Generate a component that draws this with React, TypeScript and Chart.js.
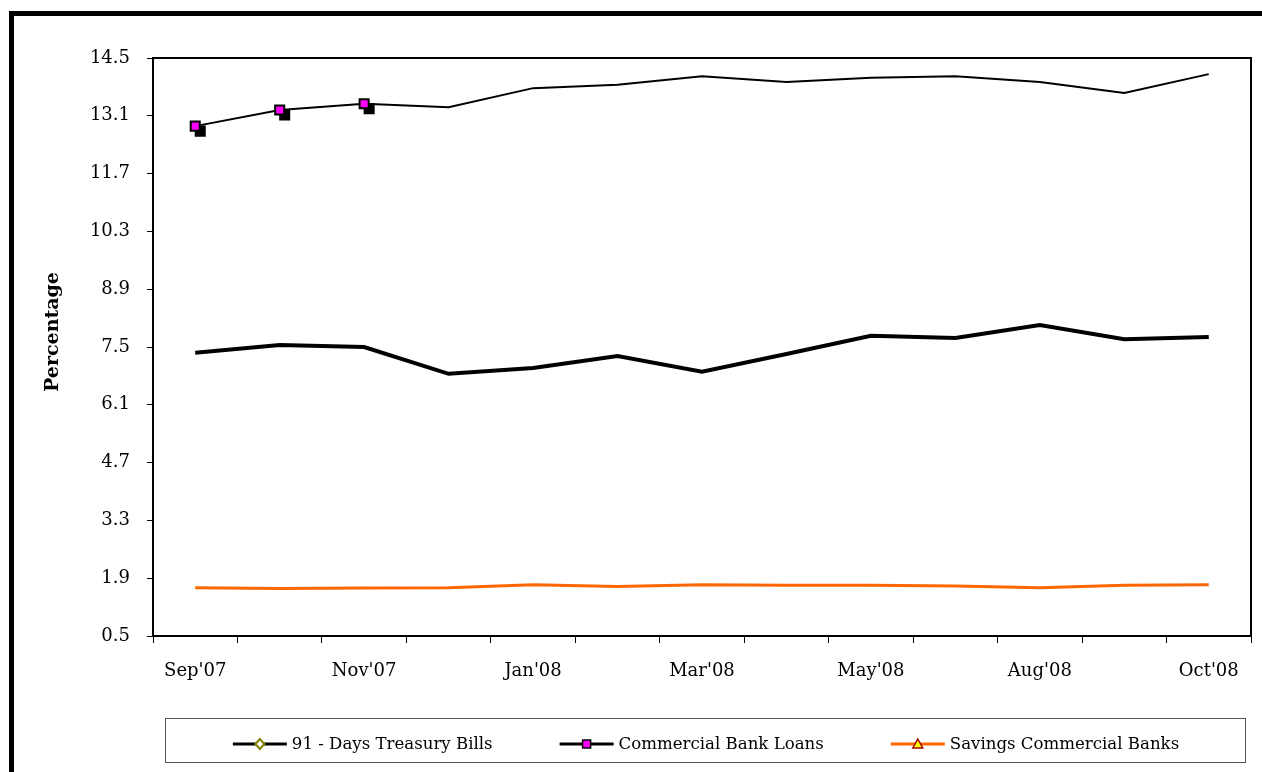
import React, { useEffect, useRef } from "react";
import { Chart, registerables } from "chart.js";

Chart.register(...registerables);

const months = ["Sep'07", "Oct'07", "Nov'07", "Dec'07", "Jan'08", "Feb'08", "Mar'08", "Apr'08", "May'08", "Jul'08", "Aug'08", "Sep'08", "Oct'08"];
const treasuryBills = [7.36, 7.55, 7.5, 6.85, 6.99, 7.28, 6.9, 7.33, 7.77, 7.72, 8.03, 7.69, 7.74];
const commercialLoans = [12.85, 13.24, 13.39, 13.31, 13.77, 13.85, 14.06, 13.92, 14.02, 14.06, 13.92, 13.65, 14.11];
const savingsRates = [1.67, 1.65, 1.66, 1.67, 1.74, 1.7, 1.74, 1.73, 1.73, 1.71, 1.67, 1.73, 1.74];
const markedLoanPoints = [0, 1, 2];
const yTicks = [0.5, 1.9, 3.3, 4.7, 6.1, 7.5, 8.9, 10.3, 11.7, 13.1, 14.5];

const SERIF = '"DejaVu Serif", serif';

const customPlugin = {
  id: "customDecor",
  beforeDatasetDraw(chart: any, args: any) {
    if (chart.data.datasets[args.index].isShadow) {
      chart.ctx.save();
      chart.ctx.translate(5, 5);
    }
  },
  afterDatasetDraw(chart: any, args: any) {
    if (chart.data.datasets[args.index].isShadow) chart.ctx.restore();
  },
  afterDraw(chart: any) {
    const { ctx, chartArea: a } = chart;
    ctx.save();
    ctx.strokeStyle = "#000";
    ctx.lineWidth = 2;
    ctx.strokeRect(a.left, a.top, a.right - a.left, a.bottom - a.top);
    ctx.restore();

    // y-axis title
    ctx.save();
    ctx.translate(53, 332);
    ctx.rotate(-Math.PI / 2);
    ctx.font = `bold 19px ${SERIF}`;
    ctx.textAlign = "center";
    ctx.textBaseline = "middle";
    ctx.fillStyle = "#000";
    ctx.fillText("Percentage", 0, 0);
    ctx.restore();

    // legend
    ctx.save();
    ctx.strokeStyle = "#555";
    ctx.lineWidth = 1;
    ctx.strokeRect(165.5, 718.5, 1080, 44);
    const items = chart.data.datasets.filter((d: any) => d.legendSymbol);
    ctx.font = `16.6px ${SERIF}`;
    const symW = 54, gap = 5, itemGap = 67;
    const widths = items.map((d: any) => ctx.measureText(d.label).width);
    const total = widths.reduce((s: number, w: number) => s + symW + gap + w, 0) + itemGap * (items.length - 1);
    let x = 706 - total / 2;
    const y = 744;
    items.forEach((d: any, i: number) => {
      ctx.strokeStyle = d.legendLineColor;
      ctx.lineWidth = d.legendLineWidth;
      ctx.beginPath();
      ctx.moveTo(x, y);
      ctx.lineTo(x + symW, y);
      ctx.stroke();
      const cx = x + symW / 2;
      ctx.beginPath();
      if (d.legendSymbol === "diamond") {
        ctx.moveTo(cx, y - 5);
        ctx.lineTo(cx + 4.5, y);
        ctx.lineTo(cx, y + 5);
        ctx.lineTo(cx - 4.5, y);
        ctx.closePath();
        ctx.fillStyle = "#fff";
        ctx.fill();
        ctx.strokeStyle = "#808000";
        ctx.lineWidth = 2;
        ctx.stroke();
      } else if (d.legendSymbol === "square") {
        ctx.rect(cx - 4, y - 4, 8, 8);
        ctx.fillStyle = "#ff00ff";
        ctx.fill();
        ctx.strokeStyle = "#000";
        ctx.lineWidth = 1.5;
        ctx.stroke();
      } else {
        ctx.moveTo(cx, y - 5);
        ctx.lineTo(cx + 5, y + 4);
        ctx.lineTo(cx - 5, y + 4);
        ctx.closePath();
        ctx.fillStyle = "#ffff00";
        ctx.fill();
        ctx.strokeStyle = "#a00000";
        ctx.lineWidth = 1.5;
        ctx.stroke();
      }
      ctx.fillStyle = "#000";
      ctx.textAlign = "left";
      ctx.textBaseline = "middle";
      ctx.fillText(d.label, x + symW + gap, y + 1);
      x += symW + gap + widths[i] + itemGap;
    });
    ctx.restore();
  },
};

export default function App() {
  const ref = useRef<HTMLCanvasElement | null>(null);

  useEffect(() => {
    if (!ref.current) return;
    const chart = new Chart(ref.current, {
      type: "line",
      data: {
        labels: months,
        datasets: [
          {
            label: "91 - Days Treasury Bills",
            data: treasuryBills,
            borderColor: "#000",
            borderWidth: 4,
            pointRadius: 0,
            tension: 0,
            legendSymbol: "diamond",
            legendLineColor: "#000",
            legendLineWidth: 3,
          } as any,
          {
            label: "Commercial Bank Loans",
            data: commercialLoans,
            borderColor: "#000",
            borderWidth: 2,
            pointStyle: "rect",
            pointRadius: commercialLoans.map((_, i) => (markedLoanPoints.includes(i) ? 6.4 : 0)),
            pointBackgroundColor: "#ff00ff",
            pointBorderColor: "#000",
            pointBorderWidth: 2,
            tension: 0,
            legendSymbol: "square",
            legendLineColor: "#000",
            legendLineWidth: 3,
          } as any,
          {
            label: "Savings Commercial Banks",
            data: savingsRates,
            borderColor: "#ff6600",
            borderWidth: 3,
            pointRadius: 0,
            tension: 0,
            legendSymbol: "triangle",
            legendLineColor: "#ff6600",
            legendLineWidth: 3,
          } as any,
          {
            label: "shadow",
            data: commercialLoans.map((v, i) => (markedLoanPoints.includes(i) ? v : null)),
            showLine: false,
            pointStyle: "rect",
            pointRadius: 6.4,
            pointBackgroundColor: "#000",
            pointBorderColor: "#000",
            pointBorderWidth: 2,
            isShadow: true,
          } as any,
        ],
      },
      options: {
        animation: false,
        responsive: false,
        devicePixelRatio: 1,
        layout: { padding: { left: 0, right: 11, top: 58, bottom: 76 } },
        plugins: { legend: { display: false }, tooltip: { enabled: false } },
        scales: {
          x: {
            offset: true,
            grid: { offset: true, drawOnChartArea: false, drawTicks: true, tickLength: 7, color: "#000", lineWidth: 1 },
            border: { display: true, color: "#000", width: 2 },
            ticks: {
              autoSkip: false,
              maxRotation: 0,
              padding: 18,
              color: "#000",
              font: { family: SERIF, size: 18 },
              callback: (_v: any, i: number) => (i % 2 === 0 ? months[i] : ""),
            },
            afterFit: (s: any) => {
              s.height = 60;
            },
          },
          y: {
            min: 0.5,
            max: 14.5,
            grid: { drawOnChartArea: false, drawTicks: true, tickLength: 6, color: "#000", lineWidth: 1 },
            border: { display: true, color: "#000", width: 2 },
            afterBuildTicks: (s: any) => {
              s.ticks = yTicks.map((v) => ({ value: v }));
            },
            ticks: {
              padding: 17,
              color: "#000",
              font: { family: SERIF, size: 18 },
              callback: (v: any) => Number(v).toFixed(1),
            },
            afterFit: (s: any) => {
              s.width = 153;
            },
          },
        },
      },
      plugins: [customPlugin],
    });
    return () => chart.destroy();
  }, []);

  return (
    <div style={{ position: "fixed", left: 0, top: 0, width: 1262, height: 772, overflow: "hidden", background: "#fff" }}>
      <div
        style={{
          position: "absolute",
          left: 9,
          top: 11,
          width: 1400,
          height: 900,
          border: "5px solid #000",
          boxSizing: "border-box",
        }}
      />
      <canvas
        ref={ref}
        width={1262}
        height={772}
        style={{ position: "absolute", left: 0, top: 0, width: 1262, height: 772, display: "block" }}
      />
    </div>
  );
}
